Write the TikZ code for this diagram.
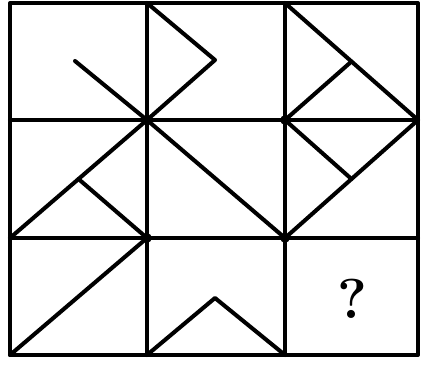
\documentclass[tikz,border=0pt]{standalone}
\usetikzlibrary{calc}
\begin{document}
\begin{tikzpicture}[x=0.02cm,y=-0.02cm,
  ln/.style={line width=2.3pt,line cap=round,line join=round},
  jdot/.style={circle,fill=black,inner sep=0pt,minimum size=5.5pt}]
\useasboundingbox[fill=white] (0,0) rectangle (423,366);
% grid coordinates
\coordinate (A0) at (10,3);   \coordinate (A1) at (147,3);   \coordinate (A2) at (285,3);   \coordinate (A3) at (418,3);
\coordinate (B0) at (10,120); \coordinate (B1) at (147,120); \coordinate (B2) at (285,120); \coordinate (B3) at (418,120);
\coordinate (C0) at (10,238); \coordinate (C1) at (147,238); \coordinate (C2) at (285,238); \coordinate (C3) at (418,238);
\coordinate (D0) at (10,355); \coordinate (D1) at (147,355); \coordinate (D2) at (285,355); \coordinate (D3) at (418,355);
% grid
\draw[ln] (A0) rectangle (D3);
\draw[ln] (A1) -- (D1);
\draw[ln] (A2) -- (D2);
\draw[ln] (B0) -- (B3);
\draw[ln] (C0) -- (C3);
% row 1
\coordinate (p11) at (75,61);
\draw[ln] (p11) -- (B1);
\coordinate (p12) at (215,60);
\draw[ln] (A1) -- (p12) -- (B1);
\draw[ln] (A2) -- (B3);
\draw[ln] (B2) -- ($(A2)!0.5!(B3)$);
% row 2
\draw[ln] (B1) -- (C0);
\draw[ln] ($(B1)!0.5!(C0)$) -- (C1);
\draw[ln] (B1) -- (C2);
\draw[ln] (B3) -- (C2);
\draw[ln] (B2) -- ($(B3)!0.5!(C2)$);
% row 3
\draw[ln] (D0) -- (C1);
\coordinate (p32) at (215,298);
\draw[ln] (D1) -- (p32) -- (D2);
\node (q) at (352,299) {\fontsize{32}{32}\selectfont\bfseries ?};
% junction dots
\node[jdot] (j1) at (B1) {};
\node[jdot] (j2) at (B2) {};
\node[jdot] (j3) at (C1) {};
\node[jdot] (j4) at (C2) {};
\end{tikzpicture}
\end{document}
